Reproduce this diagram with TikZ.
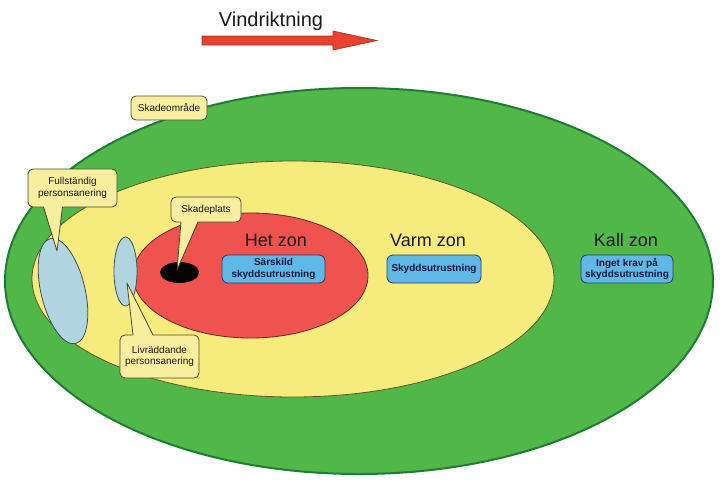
\documentclass[tikz,border=0pt]{standalone}
\usepackage{fontspec}
\setmainfont{Liberation Sans}
\definecolor{greenF}{RGB}{80,183,72}
\definecolor{greenD}{RGB}{30,125,50}
\definecolor{yelF}{RGB}{245,236,125}
\definecolor{yelD}{RGB}{95,85,35}
\definecolor{redF}{RGB}{238,83,80}
\definecolor{redD}{RGB}{115,35,30}
\definecolor{lblue}{RGB}{176,213,224}
\definecolor{lblueD}{RGB}{60,80,90}
\definecolor{boxF}{RGB}{95,184,230}
\definecolor{boxD}{RGB}{40,60,100}
\definecolor{boxT}{RGB}{15,25,55}
\definecolor{callF}{RGB}{247,238,160}
\definecolor{callD}{RGB}{75,72,50}
\definecolor{arrF}{RGB}{232,65,45}
\definecolor{arrD}{RGB}{165,45,30}
\definecolor{txt}{RGB}{25,25,25}
\tikzset{
  callbox/.style={draw=callD,fill=callF,line width=0.8pt,rounded corners=5pt,inner sep=0pt,align=center,text=txt,font=\fontsize{10}{11.5}\selectfont},
  ptrfill/.style={fill=callF},
  ptrline/.style={draw=callD,line width=0.8pt,line join=round},
  gearbox/.style={draw=boxD,fill=boxF,line width=0.8pt,rounded corners=6pt,inner sep=0pt,align=center,text=boxT,font=\fontsize{10}{11.5}\selectfont\bfseries},
  zonelabel/.style={text=txt,font=\fontsize{18}{20}\selectfont,inner sep=0pt},
}
\begin{document}
\begin{tikzpicture}[x=1pt,y=-1pt]
\useasboundingbox (0,0) rectangle (728,493);
% zones
\draw[fill=greenF,draw=greenD,line width=2pt] (359,281) ellipse [x radius=354, y radius=193];
\draw[fill=yelF,draw=yelD,line width=0.8pt] (293,279) ellipse [x radius=261, y radius=118];
\draw[fill=redF,draw=redD,line width=0.8pt] (250.5,275.5) ellipse [x radius=117.5, y radius=62.5];
% decontamination areas
\draw[fill=lblue,draw=lblueD,line width=0.8pt,rotate around={13.5:(63,291)}] (63,291) ellipse [x radius=22, y radius=54];
\draw[fill=lblue,draw=lblueD,line width=0.8pt] (125.5,271.5) ellipse [x radius=11.5, y radius=34.5];
% accident site
\fill[black] (179.5,272.5) ellipse [x radius=19.5, y radius=10.5];
% wind arrow
\node[text=txt,font=\fontsize{20}{22}\selectfont,inner sep=0pt] (wind) at (271,21) {Vindriktning};
\draw[fill=arrF,draw=arrD,line width=0.6pt,line join=miter]
  (202,36) -- (333,36) -- (333,31) -- (377,40.5) -- (333,50) -- (333,45) -- (202,45) -- cycle;
% callouts
\node[callbox,minimum width=76pt,minimum height=24pt] (skom) at (169,108) {Skadeområde};

\node[callbox,minimum width=89pt,minimum height=38pt] (full) at (72.5,188) {Fullständig\\personsanering};
\fill[ptrfill] (43.5,205.5) -- (57,251) -- (62.5,205.5) -- cycle;
\draw[ptrline] (43.5,207) -- (57,251) -- (62.5,207);

\node[callbox,minimum width=70pt,minimum height=25pt] (plats) at (206,209.5) {Skadeplats};
\fill[ptrfill] (181,220.5) -- (177,270) -- (198,220.5) -- cycle;
\draw[ptrline] (181,222) -- (177,270) -- (198,222);

\node[callbox,minimum width=79pt,minimum height=43pt] (livr) at (159.5,356.5) {Livräddande\\personsanering};
\fill[ptrfill] (133,336.5) -- (127,283) -- (153,336.5) -- cycle;
\draw[ptrline] (133,335) -- (127,283) -- (153,335);
% zone labels
\node[zonelabel] (het) at (276,240) {Het zon};
\node[zonelabel] (varm) at (428,240) {Varm zon};
\node[zonelabel] (kall) at (626,240) {Kall zon};
% equipment boxes
\node[gearbox,minimum width=103pt,minimum height=28pt] (sars) at (273.5,269) {Särskild\\skyddsutrustning};
\node[gearbox,minimum width=94pt,minimum height=28pt] (skydd) at (434,269) {Skyddsutrustning};
\node[gearbox,minimum width=92pt,minimum height=28pt] (inget) at (627,269) {Inget krav på\\skyddsutrustning};
\end{tikzpicture}
\end{document}
